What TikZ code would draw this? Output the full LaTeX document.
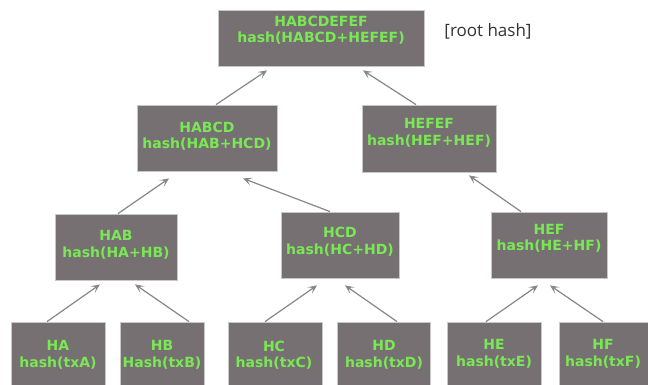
\documentclass[tikz,border=0pt]{standalone}
\usepackage{fontspec}
\setmainfont{DejaVu Sans}
\newfontfamily\notefont{Open Sans}
\usetikzlibrary{arrows.meta,calc}
\definecolor{boxgrey}{RGB}{118,112,115}
\definecolor{boxedge}{RGB}{200,200,200}
\definecolor{hashgreen}{RGB}{122,232,84}
\definecolor{arrgrey}{RGB}{135,135,135}
\tikzset{
  hbox/.style={draw=boxedge, line width=0.8pt, fill=boxgrey, inner sep=0pt},
  hlbl/.style={text=hashgreen, font=\bfseries\fontsize{14}{16.5}\selectfont, align=center, inner sep=0pt},
  arr/.style={draw=arrgrey, line width=1.2pt, -{Stealth[length=9pt,width=8pt,inset=4.5pt]}},
}
\begin{document}
\begin{tikzpicture}[x=1pt,y=-1pt]
\useasboundingbox (0,0) rectangle (648,385);
\fill[white] (0,0) rectangle (648,385);
% boxes: minimum sizes from pixel measurements
\node[hbox, minimum width=206, minimum height=56] (root) at (321,38) {};
\node[hbox, minimum width=140, minimum height=66] (habcd) at (207,138) {};
\node[hbox, minimum width=134, minimum height=67] (hefef) at (429,138.5) {};
\node[hbox, minimum width=122, minimum height=66] (hab) at (116,247) {};
\node[hbox, minimum width=118, minimum height=66] (hcd) at (340,245) {};
\node[hbox, minimum width=116, minimum height=66] (hef) at (549,245) {};
\node[hbox, minimum width=94, minimum height=70] (ha) at (58,357) {};
\node[hbox, minimum width=84, minimum height=70] (hb) at (162,357) {};
\node[hbox, minimum width=94, minimum height=70] (hc) at (275,357) {};
\node[hbox, minimum width=93, minimum height=70] (hd) at (383.5,357) {};
\node[hbox, minimum width=94, minimum height=70] (he) at (494,357) {};
\node[hbox, minimum width=92, minimum height=70] (hf) at (605,357) {};
% labels
\node[hlbl] (root-t) at (321,30) {HABCDEFEF\\hash(HABCD+HEFEF)};
\node[hlbl] (habcd-t) at (207,136) {HABCD\\hash(HAB+HCD)};
\node[hlbl] (hefef-t) at (429,133) {HEFEF\\hash(HEF+HEF)};
\node[hlbl] (hab-t) at (116,245) {HAB\\hash(HA+HB)};
\node[hlbl] (hcd-t) at (340,241.5) {HCD\\hash(HC+HD)};
\node[hlbl] (hef-t) at (549,238.5) {HEF\\hash(HE+HF)};
\node[hlbl] (ha-t) at (58,355) {HA\\hash(txA)};
\node[hlbl] (hb-t) at (162,355) {HB\\Hash(txB)};
\node[hlbl] (hc-t) at (274,355) {HC\\hash(txC)};
\node[hlbl] (hd-t) at (384,355) {HD\\hash(txD)};
\node[hlbl] (he-t) at (494,354) {HE\\hash(txE)};
\node[hlbl] (hf-t) at (603,354) {HF\\hash(txF)};
\node[font=\notefont\fontsize{17}{19}\selectfont, text=black!80, inner sep=0pt] (note) at (488,31) {[root hash]};
% connectors
\draw[arr] ([xshift=-11pt]ha.north) -- ([xshift=-16pt,yshift=-4pt]hab.south);
\draw[arr] ([xshift=27pt]hb.north) -- ([xshift=19pt,yshift=-4pt]hab.south);
\draw[arr] ([xshift=-10pt]hc.north) -- ([xshift=-23pt,yshift=-7pt]hcd.south);
\draw[arr] ([xshift=13.5pt]hd.north) -- ([xshift=5pt,yshift=-7pt]hcd.south);
\draw[arr] ([xshift=-8pt]he.north) -- ([xshift=-11pt,yshift=-7pt]hef.south);
\draw[arr] ([xshift=-2pt]hf.north) -- ([xshift=1pt,yshift=-7pt]hef.south);
\draw[arr] ([xshift=2pt]hab.north) -- ([xshift=-38pt,yshift=-7pt]habcd.south);
\draw[arr] ([xshift=-10pt]hcd.north) -- ([xshift=36pt,yshift=-7pt]habcd.south);
\draw[arr] ([xshift=-28pt]hef.north) -- ([xshift=40pt,yshift=-3pt]hefef.south);
\draw[arr] ([xshift=9pt]habcd.north) -- ([xshift=-54pt,yshift=-4pt]root.south);
\draw[arr] ([xshift=-13pt]hefef.north) -- ([xshift=42pt,yshift=-4pt]root.south);
\end{tikzpicture}
\end{document}
